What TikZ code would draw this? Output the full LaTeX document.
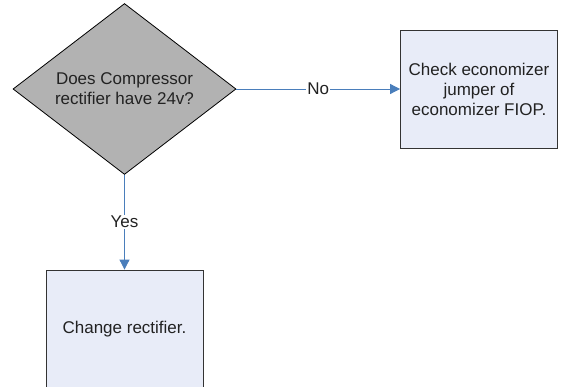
\documentclass[tikz,border=0pt]{standalone}
\usepackage{fontspec}
\setmainfont{Liberation Sans}
\usetikzlibrary{shapes.geometric,arrows.meta}
\definecolor{dgray}{RGB}{178,178,178}
\definecolor{boxfill}{RGB}{232,236,248}
\definecolor{linkblue}{RGB}{74,126,187}
\definecolor{txt}{RGB}{34,34,34}
\begin{document}
\begin{tikzpicture}[x=1pt,y=-1pt,
  every node/.style={font=\fontsize{17}{20}\selectfont, text=txt},
  decision/.style={diamond, draw=black, line width=0.8pt, fill=dgray, inner sep=0pt,
    minimum width=223pt, minimum height=166pt, align=center},
  procbox/.style={rectangle, draw=black!80, line width=0.8pt, fill=boxfill, inner sep=0pt, align=center,
    minimum width=157pt, minimum height=118pt},
  link/.style={draw=linkblue, line width=0.8pt, -{Triangle[length=10pt,width=10pt]}},
  lbl/.style={fill=white, inner sep=1pt}]
\useasboundingbox (0,0) rectangle (564,387);
\clip (0,0) rectangle (564,387);
\node[decision] (q) at (124.5,89) {Does Compressor\\rectifier have 24v?};
\node[procbox] (eco) at (479,89) {Check economizer\\jumper of\\economizer FIOP.};
\node[procbox] (chg) at (124.5,329) {Change rectifier.};
\draw[link] (q.east) -- node[lbl] {No} (eco.west);
\draw[link] (q.south) -- node[lbl] {Yes} (chg.north);
\end{tikzpicture}
\end{document}
